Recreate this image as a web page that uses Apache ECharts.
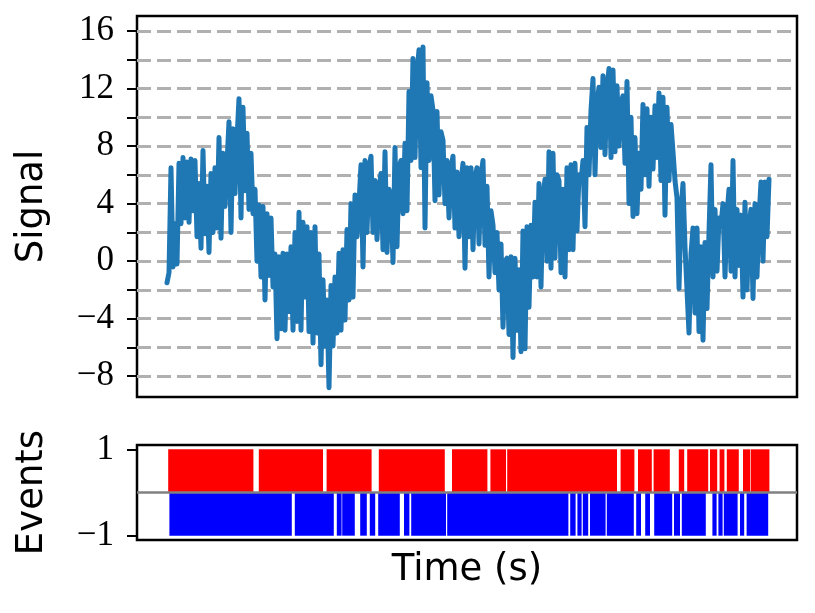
<!DOCTYPE html>
<html>
<head>
<meta charset="utf-8">
<script src="https://cdn.jsdelivr.net/npm/echarts@6/dist/echarts.min.js"></script>
<style>
html, body { margin: 0; padding: 0; background: #fff; }
#main { width: 815px; height: 613px; }
</style>
</head>
<body>
<div id="main"></div>
<script>
// signal samples, one every 1/3 s starting at t = 0
const signalStep = 1 / 3;
const signal = [
  -1.5, -0.8, 6.5, -0.4, 2.6, -0.2, 6.8, 2.6, 7.2, 3.0,
  6.9, 2.7, 7.1, 3.5, 7.0, 1.7, 5.4, 0.9, 7.7, 1.9,
  5.2, 0.6, 6.1, 2.0, 6.5, 2.3, 8.6, 1.6, 7.5, 3.8,
  6.8, 9.7, 2.0, 9.2, 4.7, 8.5, 11.3, 3.0, 10.7, 4.9,
  8.9, 3.6, 7.5, 3.3, 5.0, 0.0, 3.9, -1.1, 3.8, -2.7,
  3.3, -1.0, 3.0, -1.8, 0.5, -5.4, 0.3, -4.7, 0.55, -4.8,
  0.5, -3.5, 1.0, -4.8, 2.0, -4.2, 3.4, -4.8, 2.7, -2.5,
  2.4, -4.9, 2.0, -5.7, 2.4, -5.0, 0.5, -7.2, -1.3, -5.9,
  -2.7, -8.8, -1.7, -5.9, -1.1, -5.0, 0.55, -4.8, 0.8, -4.1,
  2.2, -2.7, 4.0, -2.5, 4.6, 1.7, 4.0, 6.7, -0.4, 7.0,
  2.0, 6.5, 7.3, 2.0, 5.6, 1.5, 5.0, 6.1, 0.8, 7.6,
  0.6, 5.0, 4.4, -0.1, 7.9, 1.0, 6.5, 7.0, 3.3, 8.2,
  3.5, 11.8, 7.0, 14.1, 7.2, 13.0, 14.7, 6.5, 14.9, 2.3,
  12.4, 7.0, 11.5, 10.5, 4.2, 10.4, 4.6, 9.0, 8.4, 4.0,
  7.0, 3.0, 6.5, 7.3, 2.3, 6.2, 1.7, 5.5, 6.8, -0.5,
  6.5, 1.7, 6.5, 0.8, 5.8, 6.5, 1.2, 6.0, 7.0, 1.1,
  5.2, -1.1, 3.5, 2.5, -0.8, 2.0, -2.0, 1.2, -4.6, 0.0,
  0.2, -5.1, 0.3, -6.7, 0.2, -4.8, -0.6, -6.3, 2.1, -6.1,
  2.4, -3.2, 2.5, -1.1, 4.1, -1.1, 5.4, -1.8, 4.5, 5.7,
  0.0, 7.6, -0.5, 7.5, 0.2, 6.0, 5.6, -0.8, 5.0, -1.1,
  6.5, 0.8, 6.7, 0.8, 6.8, 2.1, 6.0, 5.5, 7.0, 2.4,
  9.3, 6.0, 10.5, 12.7, 6.0, 11.0, 12.1, 7.9, 12.9, 7.4,
  12.0, 13.4, 7.2, 13.3, 7.6, 12.2, 8.0, 11.0, 11.5, 6.8,
  12.5, 4.0, 10.0, 3.1, 8.6, 3.3, 7.5, 5.0, 10.9, 6.0,
  10.6, 5.2, 10.0, 6.4, 10.8, 7.2, 11.7, 5.6, 11.4, 3.2,
  10.7, 5.6, 9.5, 7.6, 5.6, 4.4, -1.9, 3.5, 5.4, 1.0,
  1.0, -5.0, 0.5, 2.3, -3.6, 2.3, -4.9, 1.0, -5.5, 1.3,
  -3.3, 2.0, 6.7, -1.1, 3.6, -0.7, 3.0, 2.5, 4.0, -1.1,
  3.2, 5.0, -0.7, 7.0, -1.1, 3.6, -0.3, 3.2, -2.5, 4.1,
  -2.0, 2.5, 3.6, -2.6, 4.0, -1.1, 3.0, 5.5, 0.0, 5.5,
  1.7, 5.7
];

// event runs as [start, end] in seconds
const redEvents = [
  [0.2, 14.4], [15.3, 26.0], [26.6, 34.1], [35.3, 46.3], [47.5, 53.4],
  [53.9, 56.5], [56.7, 75.0], [75.6, 77.9], [78.5, 80.8], [81.1, 83.8],
  [85.3, 86.2], [86.7, 90.2], [90.5, 91.7], [92.1, 92.9], [93.3, 95.3],
  [96.0, 97.2], [97.3, 100.4]
];
const blueEvents = [
  [0.4, 20.8], [21.3, 27.8], [28.3, 29.1], [29.2, 31.3], [32.2, 33.3],
  [33.8, 34.7], [35.2, 38.8], [39.5, 40.4], [40.7, 46.5], [46.7, 66.9],
  [67.2, 68.1], [68.4, 69.1], [69.3, 70.2], [70.5, 73.1], [73.3, 77.8],
  [78.2, 79.0], [79.7, 80.5], [81.2, 84.2], [84.5, 85.5], [85.8, 89.8],
  [90.9, 91.6], [91.9, 92.6], [92.8, 95.1], [95.5, 96.2], [96.6, 100.2]
];

const signalTicks = [-8, -6, -4, -2, 0, 2, 4, 6, 8, 10, 12, 14, 16];
const signalLabels = [-8, -4, 0, 4, 8, 12, 16];
const eventTicks = [-1, 1];

const tickFont = 'Liberation Serif';
const nameFont = 'DejaVu Sans';

function fmt(v) {
  return v < 0 ? '\u2212' + Math.abs(v) : String(v);
}

function barItem(params, api) {
  const a = api.coord([api.value(0), 0]);
  const b = api.coord([api.value(1), api.value(2)]);
  return {
    type: 'rect',
    shape: {
      x: a[0], y: Math.min(a[1], b[1]),
      width: b[0] - a[0], height: Math.abs(b[1] - a[1])
    },
    style: { fill: api.visual('color') }
  };
}

const chart = echarts.init(document.getElementById('main'));

const xCommon = {
  type: 'value', min: -5, max: 105,
  axisLine: { show: false, onZero: false }, axisTick: { show: false },
  axisLabel: { show: false }, splitLine: { show: false }
};

chart.setOption({
  animation: false,
  backgroundColor: '#fff',
  grid: [
    { left: 137, top: 16, width: 660, height: 381, show: true, borderColor: '#000', borderWidth: 2.5, backgroundColor: 'transparent' },
    { left: 137, top: 445, width: 660, height: 95, show: true, borderColor: '#000', borderWidth: 2.5, backgroundColor: 'transparent' }
  ],
  xAxis: [
    Object.assign({ gridIndex: 0 }, xCommon),
    Object.assign({
      gridIndex: 1,
      name: 'Time (s)', nameLocation: 'middle', nameGap: 12,
      nameTextStyle: { fontFamily: nameFont, fontSize: 37, color: '#000' }
    }, xCommon)
  ],
  yAxis: [
    {
      gridIndex: 0, type: 'value', min: -9.45, max: 17.05,
      name: 'Signal', nameLocation: 'middle', nameGap: 86, nameRotate: 90,
      nameTextStyle: { fontFamily: nameFont, fontSize: 37, color: '#000' },
      axisLine: { show: false, onZero: false },
      axisTick: { show: true, inside: false, length: 10, customValues: signalTicks, lineStyle: { color: '#000', width: 2 } },
      axisLabel: { customValues: signalLabels, formatter: fmt, margin: 23, fontFamily: tickFont, fontSize: 35, color: '#000' },
      splitLine: { show: true, lineStyle: { color: '#b0b0b0', width: 3, type: [14, 6] } }
    },
    {
      gridIndex: 1, type: 'value', min: -1.1, max: 1.1,
      name: 'Events', nameLocation: 'middle', nameGap: 86, nameRotate: 90,
      nameTextStyle: { fontFamily: nameFont, fontSize: 37, color: '#000' },
      axisLine: { show: false, onZero: false },
      axisTick: { show: true, inside: false, length: 10, customValues: eventTicks, lineStyle: { color: '#000', width: 2 } },
      axisLabel: { customValues: eventTicks, formatter: fmt, margin: 23, fontFamily: tickFont, fontSize: 35, color: '#000' },
      splitLine: { show: false }
    }
  ],
  series: [
    {
      type: 'line', xAxisIndex: 0, yAxisIndex: 0,
      data: signal.map((v, i) => [i * signalStep, v]),
      showSymbol: false, symbol: 'none',
      lineStyle: { color: '#1f77b4', width: 5, join: 'round', cap: 'round' },
      z: 3
    },
    {
      type: 'custom', xAxisIndex: 1, yAxisIndex: 1,
      renderItem: barItem, itemStyle: { color: '#ff0000' },
      encode: { x: [0, 1], y: 2 },
      data: redEvents.map(r => [r[0], r[1], 1]),
      z: 2
    },
    {
      type: 'custom', xAxisIndex: 1, yAxisIndex: 1,
      renderItem: barItem, itemStyle: { color: '#0000ff' },
      encode: { x: [0, 1], y: 2 },
      data: blueEvents.map(r => [r[0], r[1], -1]),
      z: 2
    },
    {
      type: 'line', xAxisIndex: 1, yAxisIndex: 1,
      data: [[-5, 0], [105, 0]],
      symbol: 'none',
      lineStyle: { color: '#808080', width: 2.5 },
      z: 4
    }
  ]
});
</script>
</body>
</html>
